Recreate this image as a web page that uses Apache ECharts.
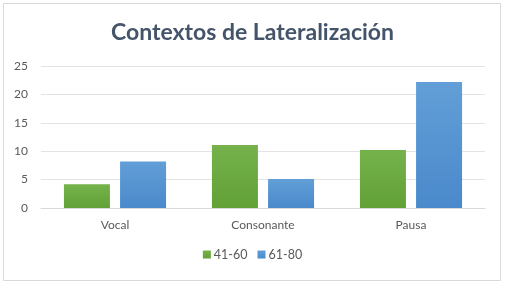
<!DOCTYPE html>
<html><head><meta charset="utf-8">
<script src="https://cdn.jsdelivr.net/npm/echarts@6/dist/echarts.min.js"></script>
<style>html,body{margin:0;padding:0;background:#fff}#c{width:505px;height:285px}</style>
</head><body><div id="c"></div>
<script>
const categories = ['Vocal', 'Consonante', 'Pausa'];
const series4160 = [4.2, 11.1, 10.2];
const series6180 = [8.2, 5.1, 22.2];
const yTicks = [0, 5, 10, 15, 20, 25];

const chart = echarts.init(document.getElementById('c'), null, {renderer: 'canvas'});
const font = 'Lato, "Open Sans", sans-serif';
chart.setOption({
  animation: false,
  backgroundColor: '#fff',
  title: {
    text: 'Contextos de Lateralización',
    left: 'center', top: 16,
    textStyle: {fontFamily: font, fontSize: 23, fontWeight: 'bold', color: '#44546a'}
  },
  graphic: [{
    type: 'rect', shape: {x: 3.5, y: 3.5, width: 497, height: 277},
    style: {fill: 'none', stroke: '#d9d9d9', lineWidth: 1}, silent: true, z: -1
  }],
  legend: {
    bottom: 19, left: 'center',
    itemWidth: 8, itemHeight: 8, itemGap: 10,
    icon: 'rect',
    textStyle: {fontFamily: font, fontSize: 12.5, color: '#595959', padding: [0, 0, 0, -2]},
    data: ['41-60', '61-80']
  },
  grid: {left: 41, right: 20, top: 66, bottom: 77, containLabel: false},
  xAxis: {
    type: 'category', data: categories,
    axisLine: {show: true, lineStyle: {color: '#d9d9d9'}},
    axisTick: {show: false},
    axisLabel: {fontFamily: font, fontSize: 12, color: '#595959', margin: 11}
  },
  yAxis: {
    type: 'value', min: yTicks[0], max: yTicks[yTicks.length - 1], interval: 5,
    axisLine: {show: false}, axisTick: {show: false},
    splitLine: {lineStyle: {color: '#e3e3e3'}},
    axisLabel: {fontFamily: font, fontSize: 12, color: '#595959', margin: 13}
  },
  series: [{
    name: '41-60', type: 'bar', data: series4160,
    barGap: '22%', barCategoryGap: '31%',
    itemStyle: {color: new echarts.graphic.LinearGradient(0, 0, 0, 1, [
      {offset: 0, color: '#75b24c'}, {offset: 1, color: '#62a136'}])}
  }, {
    name: '61-80', type: 'bar', data: series6180,
    itemStyle: {color: new echarts.graphic.LinearGradient(0, 0, 0, 1, [
      {offset: 0, color: '#629fd8'}, {offset: 1, color: '#4a89cb'}])}
  }]
});
</script></body></html>
